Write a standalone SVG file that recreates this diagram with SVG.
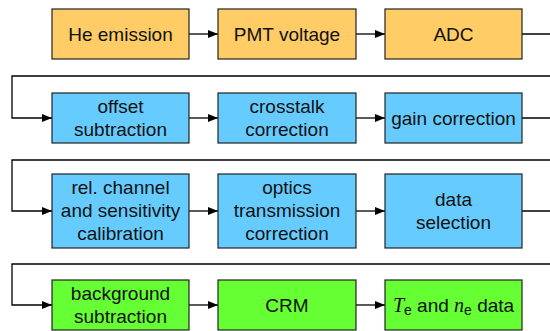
<svg xmlns="http://www.w3.org/2000/svg" width="550" height="331" viewBox="0 0 550 331">
<defs>
<marker id="arr" viewBox="0 0 10 8" refX="10" refY="4" markerWidth="10" markerHeight="8" markerUnits="userSpaceOnUse" orient="auto">
<path d="M0,0 L10,4 L0,8 Z" fill="#000"/>
</marker>
<style>
.box{stroke:#222;stroke-width:1.2}
.o{fill:#FFCC66}.b{fill:#66CCFF}.g{fill:#66FF33}
text{font-family:"Liberation Sans",Arial,sans-serif;font-size:19px;fill:#111;text-anchor:middle}
.c{fill:none;stroke:#000;stroke-width:1.3}
.it{font-family:"Liberation Serif","Times New Roman",serif;font-style:italic;font-size:20px}
.sub{font-size:14px}
</style>
</defs>
<rect width="550" height="331" fill="#fff"/>
<g id="connectors">
<path class="c" d="M189,34 H218" marker-end="url(#arr)"/>
<path class="c" d="M356,34 H385" marker-end="url(#arr)"/>
<path class="c" d="M522,34 H560 V76 H12 V118 H52" marker-end="url(#arr)"/>
<path class="c" d="M189,118 H218" marker-end="url(#arr)"/>
<path class="c" d="M356,118 H385" marker-end="url(#arr)"/>
<path class="c" d="M522,118 H560 V160 H12 V211 H52" marker-end="url(#arr)"/>
<path class="c" d="M189,211 H218" marker-end="url(#arr)"/>
<path class="c" d="M356,211 H385" marker-end="url(#arr)"/>
<path class="c" d="M522,211 H560 V264 H12 V305 H52" marker-end="url(#arr)"/>
<path class="c" d="M189,305 H218" marker-end="url(#arr)"/>
<path class="c" d="M356,305 H385" marker-end="url(#arr)"/>
</g>
<g id="he-emission"><rect class="box o" x="52" y="9" width="137" height="50"/><text x="120.5" y="40.5">He emission</text></g>
<g id="pmt-voltage"><rect class="box o" x="218" y="9" width="138" height="50"/><text x="287" y="40.5">PMT voltage</text></g>
<g id="adc"><rect class="box o" x="385" y="9" width="137" height="50"/><text x="453.5" y="40.5">ADC</text></g>
<g id="offset-subtraction"><rect class="box b" x="52" y="93" width="137" height="50"/><text x="120.5" y="113">offset</text><text x="120.5" y="136">subtraction</text></g>
<g id="crosstalk-correction"><rect class="box b" x="218" y="93" width="138" height="50"/><text x="287" y="113">crosstalk</text><text x="287" y="136">correction</text></g>
<g id="gain-correction"><rect class="box b" x="385" y="93" width="137" height="50"/><text x="453.5" y="124.5">gain correction</text></g>
<g id="rel-channel"><rect class="box b" x="52" y="174" width="137" height="74"/><text x="120.5" y="194">rel. channel</text><text x="120.5" y="217">and sensitivity</text><text x="120.5" y="240">calibration</text></g>
<g id="optics-transmission"><rect class="box b" x="218" y="174" width="138" height="74"/><text x="287" y="194">optics</text><text x="287" y="217">transmission</text><text x="287" y="240">correction</text></g>
<g id="data-selection"><rect class="box b" x="385" y="174" width="137" height="74"/><text x="453.5" y="206">data</text><text x="453.5" y="229">selection</text></g>
<g id="background-subtraction"><rect class="box g" x="52" y="280" width="137" height="50"/><text x="120.5" y="300">background</text><text x="120.5" y="323">subtraction</text></g>
<g id="crm"><rect class="box g" x="218" y="280" width="138" height="50"/><text x="287" y="311.5">CRM</text></g>
<g id="te-ne-data"><rect class="box g" x="385" y="280" width="137" height="50"/><text x="453.5" y="311.5"><tspan class="it">T</tspan><tspan class="sub" dy="3">e</tspan><tspan dy="-3"> and </tspan><tspan class="it">n</tspan><tspan class="sub" dy="3">e</tspan><tspan dy="-3"> data</tspan></text></g>
</svg>
